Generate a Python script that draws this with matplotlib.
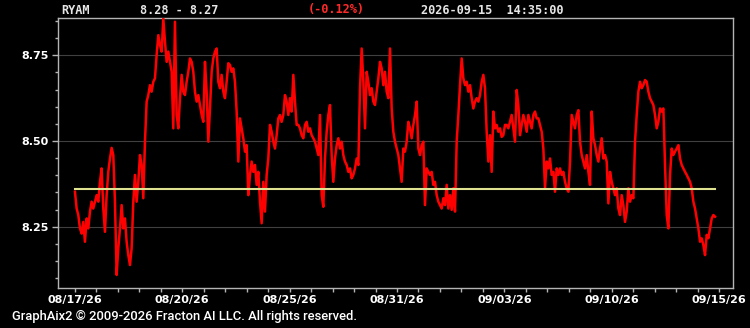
import matplotlib
matplotlib.use("Agg")
import matplotlib.pyplot as plt
from matplotlib.ticker import MultipleLocator, FixedLocator, FixedFormatter
import numpy as np

# 走勢資料（由圖上讀取，等間距取樣）
price = [
    # 08/17 - 08/20
    8.352, 8.303, 8.284, 8.245, 8.230, 8.264, 8.206, 8.274, 8.245, 8.294,
    8.323, 8.303, 8.323, 8.342, 8.323, 8.381, 8.420, 8.303, 8.235, 8.342,
    8.410, 8.449, 8.480, 8.459, 8.323, 8.109, 8.187, 8.245, 8.313, 8.245,
    8.274, 8.206, 8.167, 8.138, 8.187, 8.323, 8.401, 8.323, 8.381, 8.459,
    8.430, 8.333, 8.498, 8.615, 8.634, 8.663, 8.644, 8.673, 8.683, 8.751,
    8.809, 8.780, 8.761, 8.858, 8.790, 8.731, 8.761, 8.731, 8.702, 8.537,
    # 08/20 - 08/25
    8.848, 8.576, 8.537, 8.625, 8.693, 8.644, 8.634, 8.673, 8.702, 8.741,
    8.731, 8.702, 8.644, 8.615, 8.634, 8.605, 8.576, 8.556, 8.731, 8.644,
    8.498, 8.595, 8.702, 8.741, 8.761, 8.770, 8.673, 8.654, 8.693, 8.644,
    8.625, 8.673, 8.727, 8.722, 8.702, 8.712, 8.673, 8.586, 8.440, 8.566,
    8.537, 8.508, 8.469, 8.488, 8.342, 8.401, 8.440, 8.410, 8.430, 8.372,
    8.410, 8.323, 8.260, 8.381, 8.294, 8.401, 8.449, 8.547, 8.527, 8.498,
    8.478, 8.517, 8.566,
    # 08/25 - 08/31
    8.576, 8.556, 8.576, 8.634, 8.615, 8.576, 8.625, 8.586, 8.693, 8.615,
    8.547, 8.547, 8.537, 8.517, 8.508, 8.547, 8.556, 8.527, 8.537, 8.517,
    8.508, 8.498, 8.478, 8.459, 8.576, 8.342, 8.308, 8.449, 8.527, 8.576,
    8.605, 8.459, 8.381, 8.449, 8.488, 8.508, 8.478, 8.498, 8.459, 8.440,
    8.430, 8.410, 8.420, 8.391, 8.401, 8.420, 8.449, 8.430, 8.654, 8.770,
    8.673, 8.537, 8.702, 8.673, 8.634, 8.654, 8.615, 8.605, 8.644, 8.683,
    8.731, 8.712, 8.663,
    # 08/31 - 09/03
    8.702, 8.644, 8.625, 8.770, 8.595, 8.527, 8.498, 8.478, 8.459, 8.420,
    8.381, 8.478, 8.469, 8.498, 8.556, 8.537, 8.508, 8.547, 8.576, 8.615,
    8.478, 8.459, 8.488, 8.498, 8.313, 8.420, 8.410, 8.401, 8.410, 8.372,
    8.381, 8.342, 8.323, 8.313, 8.303, 8.333, 8.313, 8.372, 8.303, 8.342,
    8.299, 8.362, 8.294, 8.498, 8.576, 8.663, 8.741, 8.683, 8.663, 8.673,
    8.644, 8.663, 8.625, 8.595, 8.615, 8.625, 8.615, 8.634, 8.673, 8.693,
    8.654, 8.527, 8.440,
    # 09/03 - 09/10
    8.517, 8.410, 8.586, 8.537, 8.547, 8.527, 8.537, 8.512, 8.517, 8.547,
    8.547, 8.537, 8.556, 8.576, 8.537, 8.498, 8.649, 8.605, 8.517, 8.547,
    8.576, 8.556, 8.527, 8.576, 8.556, 8.537, 8.576, 8.586, 8.566, 8.566,
    8.547, 8.527, 8.478, 8.362, 8.440, 8.420, 8.449, 8.401, 8.410, 8.352,
    8.420, 8.401, 8.420, 8.401, 8.410, 8.381, 8.362, 8.352, 8.440, 8.576,
    8.556, 8.537, 8.576, 8.590, 8.498, 8.459, 8.440, 8.420, 8.459, 8.410,
    8.372, 8.586, 8.508,
    # 09/10 - 09/15
    8.488, 8.459, 8.440, 8.478, 8.508, 8.449, 8.459, 8.440, 8.318, 8.410,
    8.381, 8.362, 8.342, 8.362, 8.303, 8.284, 8.342, 8.313, 8.264, 8.294,
    8.362, 8.323, 8.342, 8.333, 8.498, 8.576, 8.644, 8.673, 8.654, 8.663,
    8.678, 8.673, 8.644, 8.625, 8.615, 8.605, 8.576, 8.537, 8.556, 8.595,
    8.586, 8.595, 8.430, 8.284, 8.245, 8.401, 8.478, 8.459, 8.469, 8.478,
    8.488, 8.449, 8.430, 8.420, 8.410, 8.401, 8.391, 8.381, 8.362, 8.323,
    8.303, 8.274, 8.245, 8.206, 8.216, 8.196, 8.167, 8.226, 8.216, 8.245,
    8.274, 8.284, 8.279,
]
ref_level = 8.36
samples_per_tick = 12.88  # 每個小刻度約含的取樣數

date_labels = ["08/17/26", "08/20/26", "08/25/26", "08/31/26",
               "09/03/26", "09/10/26", "09/15/26"]
y_ticks = [8.25, 8.50, 8.75]

symbol = "RYAM"
quote_text = "8.28 - 8.27"
change_text = "(-0.12%)"
stamp_text = "2026-09-15  14:35:00"
footer_text = "GraphAix2 \u00a9 2009-2026 Fracton AI LLC. All rights reserved."

BG = "#000000"
FG = "#ffffff"
AXIS = "#b4b4b4"

x = np.arange(len(price)) / samples_per_tick

fig = plt.figure(figsize=(7.5, 3.28), dpi=100)
fig.patch.set_facecolor(BG)
ax = fig.add_axes([58 / 750, 1 - 288 / 328, 675 / 750, 270 / 328])
ax.set_facecolor(BG)

for s in ax.spines.values():
    s.set_color(AXIS)
    s.set_linewidth(1.0)

ax.plot(x, price, color="#ff0000", linewidth=1.8, solid_joinstyle="round", zorder=3)
ax.plot([x[0], x[-1]], [ref_level, ref_level], color="#dfe290", linewidth=1.5, zorder=4)

ax.set_xlim(-0.79, 30.65)
ax.set_ylim(8.071, 8.859)

ax.xaxis.set_major_locator(FixedLocator([0, 5, 10, 15, 20, 25, 30]))
ax.xaxis.set_major_formatter(FixedFormatter(date_labels))
ax.xaxis.set_minor_locator(MultipleLocator(1))
ax.yaxis.set_major_locator(FixedLocator(y_ticks))
ax.yaxis.set_major_formatter(FixedFormatter([f"{v:.2f}" for v in y_ticks]))
ax.yaxis.set_minor_locator(MultipleLocator(0.05))

ax.tick_params(which="both", colors=AXIS, labelcolor=FG, width=1)
ax.tick_params(axis="x", which="both", length=3, pad=2)
ax.tick_params(axis="y", which="major", length=4, pad=3)
ax.tick_params(axis="y", which="minor", length=2)
for lab in ax.get_xticklabels() + ax.get_yticklabels():
    lab.set_fontsize(8)
    lab.set_fontweight("bold")

ax.grid(True, which="major", axis="y", color="#404040", linewidth=0.8)

mono = dict(family="DejaVu Sans Mono", fontsize=8.6, va="center", ha="left",
            fontweight="bold")
ty = 1 - 10 / 328
fig.text(61 / 750, ty, symbol, color="#e6e6e6", **mono)
fig.text(140 / 750, ty, quote_text, color="#e6e6e6", **mono)
fig.text(308 / 750, ty, change_text, color="#ff2a2a", **mono)
fig.text(421 / 750, ty, stamp_text, color="#e6e6e6", **mono)

fig.text(12 / 750, 1 - 316 / 328, footer_text, color=FG, fontsize=9.4,
         family=["Roboto", "DejaVu Sans"], fontweight="medium",
         va="center", ha="left")

fig.savefig("out.png", dpi=100, facecolor=BG)
